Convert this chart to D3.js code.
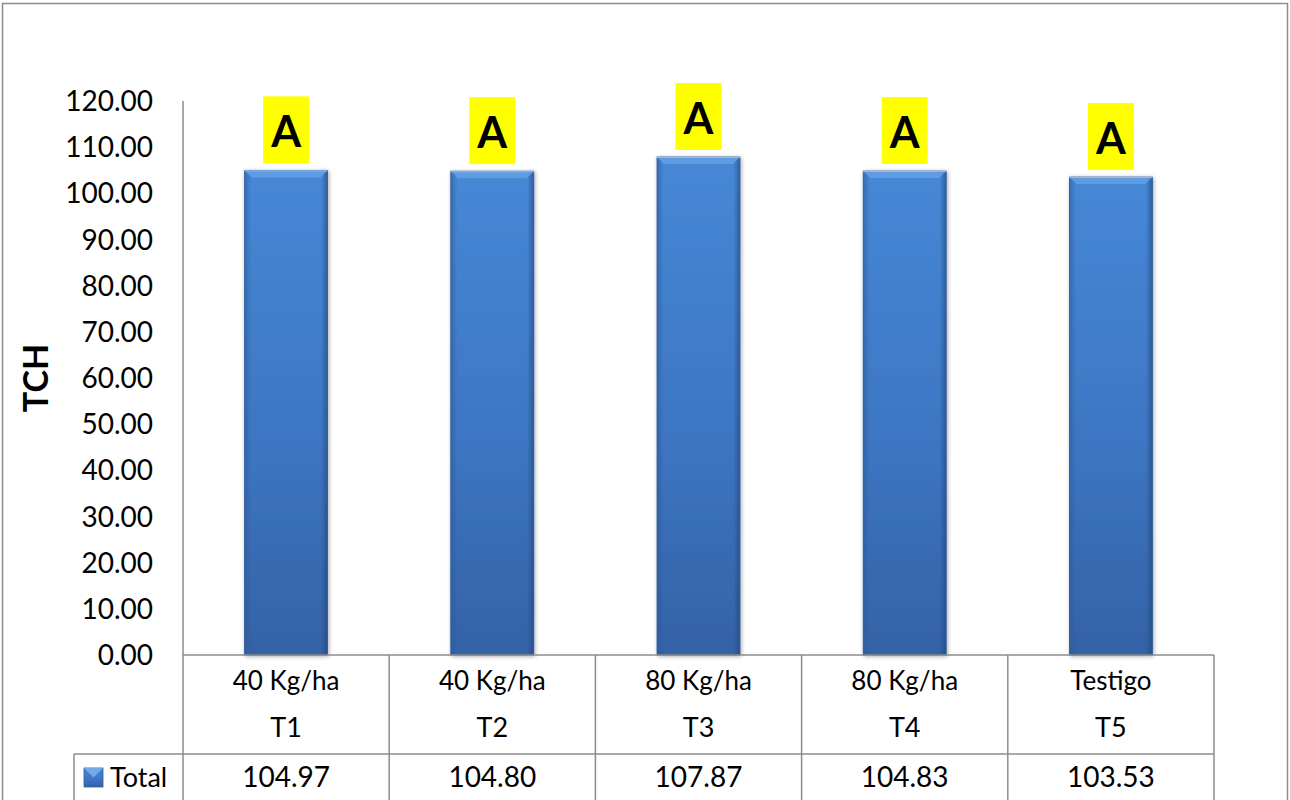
<!DOCTYPE html>
<html>
<head>
<meta charset="utf-8">
<script src="https://cdn.jsdelivr.net/npm/d3@7"></script>
<style>
  html, body { margin: 0; padding: 0; background: #fff; }
  svg { display: block; }
  text { font-family: Lato, "Open Sans", "Liberation Sans", sans-serif; fill: #000; }
</style>
</head>
<body>
<svg id="chart" width="1290" height="800"></svg>
<script>
// Treatments, dose rows, yields (TCH) and significance groups
const treatments = ["T1", "T2", "T3", "T4", "T5"];
const doses = ["40 Kg/ha", "40 Kg/ha", "80 Kg/ha", "80 Kg/ha", "Testigo"];
const totals = [104.97, 104.80, 107.87, 104.83, 103.53];
const groups = ["A", "A", "A", "A", "A"];
const yTicks = [0, 10, 20, 30, 40, 50, 60, 70, 80, 90, 100, 110, 120];
const seriesName = "Total";
const axisTitle = "TCH";

const svg = d3.select("#chart");
const gridColor = "#8c8c8c";

const plot = { left: 183, right: 1214, top: 101, bottom: 655 };
const tableRowY = 754, tableBottom = 812, legendLeft = 74;

const x = d3.scaleBand().domain(treatments).range([plot.left, plot.right]).paddingInner(0).paddingOuter(0);
const y = d3.scaleLinear().domain([0, 120]).range([plot.bottom, plot.top]);
const barW = 83;

// gradients for bar body and legend key
const defs = svg.append("defs");
const g1 = defs.append("linearGradient").attr("id", "barGrad").attr("x1", 0).attr("y1", 0).attr("x2", 0).attr("y2", 1);
g1.append("stop").attr("offset", 0).attr("stop-color", "#4688d6");
g1.append("stop").attr("offset", 0.55).attr("stop-color", "#3d76c3");
g1.append("stop").attr("offset", 1).attr("stop-color", "#3462a6");
const g2 = defs.append("linearGradient").attr("id", "sideGrad").attr("x1", 0).attr("y1", 0).attr("x2", 1).attr("y2", 0);
g2.append("stop").attr("offset", 0).attr("stop-color", "#2b5796").attr("stop-opacity", 0.55);
g2.append("stop").attr("offset", 0.08).attr("stop-color", "#2b5796").attr("stop-opacity", 0);
g2.append("stop").attr("offset", 0.92).attr("stop-color", "#1f4478").attr("stop-opacity", 0);
g2.append("stop").attr("offset", 1).attr("stop-color", "#1f4478").attr("stop-opacity", 0.6);
const shadow = defs.append("filter").attr("id", "shadow").attr("x", "-20%").attr("y", "-5%").attr("width", "140%").attr("height", "110%");
shadow.append("feGaussianBlur").attr("in", "SourceAlpha").attr("stdDeviation", 2).attr("result", "b");
shadow.append("feOffset").attr("in", "b").attr("dx", 1).attr("dy", 1).attr("result", "o");
shadow.append("feComponentTransfer").attr("in", "o").attr("result", "s")
  .append("feFuncA").attr("type", "linear").attr("slope", 0.35);
const merge = shadow.append("feMerge");
merge.append("feMergeNode").attr("in", "s");
merge.append("feMergeNode").attr("in", "SourceGraphic");

// outer chart frame
svg.append("rect").attr("x", 2.5).attr("y", 3.5).attr("width", 1285).attr("height", 830)
  .attr("fill", "none").attr("stroke", gridColor).attr("stroke-width", 1.5);

// y axis line and tick labels
svg.append("line").attr("x1", plot.left).attr("x2", plot.left).attr("y1", y(120)).attr("y2", plot.bottom)
  .attr("stroke", gridColor).attr("stroke-width", 1.5);
svg.append("g").selectAll("text").data(yTicks).join("text")
  .attr("x", 153).attr("y", d => y(d)).attr("dy", "0.36em")
  .attr("text-anchor", "end").attr("font-size", 28)
  .text(d => d.toFixed(2));

// axis title
svg.append("text").attr("transform", `translate(48,${(y(120) + plot.bottom) / 2}) rotate(-90)`)
  .attr("text-anchor", "middle").attr("font-size", 34).attr("font-weight", 700)
  .attr("font-family", "'Liberation Sans', Arial, sans-serif").text(axisTitle);

// bars with bevelled edges
const bars = svg.append("g").selectAll("g").data(treatments).join("g").attr("filter", "url(#shadow)");
bars.append("rect")
  .attr("x", d => x(d) + x.bandwidth() / 2 - barW / 2)
  .attr("width", barW)
  .attr("y", (d, i) => y(totals[i]))
  .attr("height", (d, i) => plot.bottom - y(totals[i]))
  .attr("fill", "url(#barGrad)");
bars.append("rect")
  .attr("x", d => x(d) + x.bandwidth() / 2 - barW / 2)
  .attr("width", barW)
  .attr("y", (d, i) => y(totals[i]))
  .attr("height", (d, i) => plot.bottom - y(totals[i]))
  .attr("fill", "url(#sideGrad)")
  .attr("stroke", "#2e5d9c").attr("stroke-width", 0.8);
// top bevel
bars.append("path")
  .attr("d", (d, i) => {
    const x0 = x(d) + x.bandwidth() / 2 - barW / 2, x1 = x0 + barW, t = y(totals[i]), b = 7;
    return `M${x0},${t}L${x1},${t}L${x1 - b},${t + b}L${x0 + b},${t + b}Z`;
  })
  .attr("fill", "#6aa3e6").attr("opacity", 0.75);
bars.append("line")
  .attr("x1", d => x(d) + x.bandwidth() / 2 - barW / 2)
  .attr("x2", d => x(d) + x.bandwidth() / 2 + barW / 2)
  .attr("y1", (d, i) => y(totals[i]) + 0.5).attr("y2", (d, i) => y(totals[i]) + 0.5)
  .attr("stroke", "#8dbcf2").attr("stroke-width", 1);

// significance letters on yellow tags
const tagW = 46, tagH = 67, gap = 7;
const tags = svg.append("g").selectAll("g").data(treatments).join("g");
tags.append("rect")
  .attr("x", d => x(d) + x.bandwidth() / 2 - tagW / 2)
  .attr("y", (d, i) => y(totals[i]) - gap - tagH)
  .attr("width", tagW).attr("height", tagH).attr("fill", "#ffff00");
tags.append("text")
  .attr("x", d => x(d) + x.bandwidth() / 2)
  .attr("y", (d, i) => y(totals[i]) - gap - tagH / 2 + 17)
  .attr("text-anchor", "middle").attr("font-size", 43).attr("font-weight", 700)
  .attr("font-family", "'Liberation Sans', Arial, sans-serif")
  .text((d, i) => groups[i]);

// data table below the plot
const table = svg.append("g").attr("stroke", gridColor).attr("stroke-width", 1.5);
table.append("line").attr("x1", plot.left).attr("x2", plot.right).attr("y1", plot.bottom).attr("y2", plot.bottom);
table.append("line").attr("x1", legendLeft).attr("x2", plot.right).attr("y1", tableRowY).attr("y2", tableRowY);
const bounds = treatments.map(d => x(d)).concat([plot.right]);
table.selectAll(".v").data(bounds).join("line")
  .attr("x1", d => d).attr("x2", d => d).attr("y1", plot.bottom).attr("y2", tableBottom);
table.append("line").attr("x1", legendLeft).attr("x2", legendLeft).attr("y1", tableRowY).attr("y2", tableBottom);

const labels = svg.append("g").attr("text-anchor", "middle");
labels.selectAll(".dose").data(treatments).join("text")
  .attr("font-size", 26)
  .attr("x", d => x(d) + x.bandwidth() / 2).attr("y", 690).text((d, i) => doses[i]);
labels.selectAll(".trt").data(treatments).join("text")
  .attr("font-size", 27)
  .attr("x", d => x(d) + x.bandwidth() / 2).attr("y", 737).text(d => d);
labels.selectAll(".val").data(treatments).join("text")
  .attr("font-size", 28)
  .attr("x", d => x(d) + x.bandwidth() / 2).attr("y", 787).text((d, i) => totals[i].toFixed(2));

// legend key
svg.append("rect").attr("x", 84).attr("y", 768).attr("width", 19).attr("height", 19).attr("fill", "url(#barGrad)")
  .attr("stroke", "#2e5d9c").attr("stroke-width", 0.8);
svg.append("path").attr("d", "M84,768L103,768L93.5,777.5Z").attr("fill", "#7fb4ee").attr("opacity", 0.8);
svg.append("text").attr("x", 110).attr("y", 787).attr("font-size", 27).text(seriesName);
</script>
</body>
</html>
